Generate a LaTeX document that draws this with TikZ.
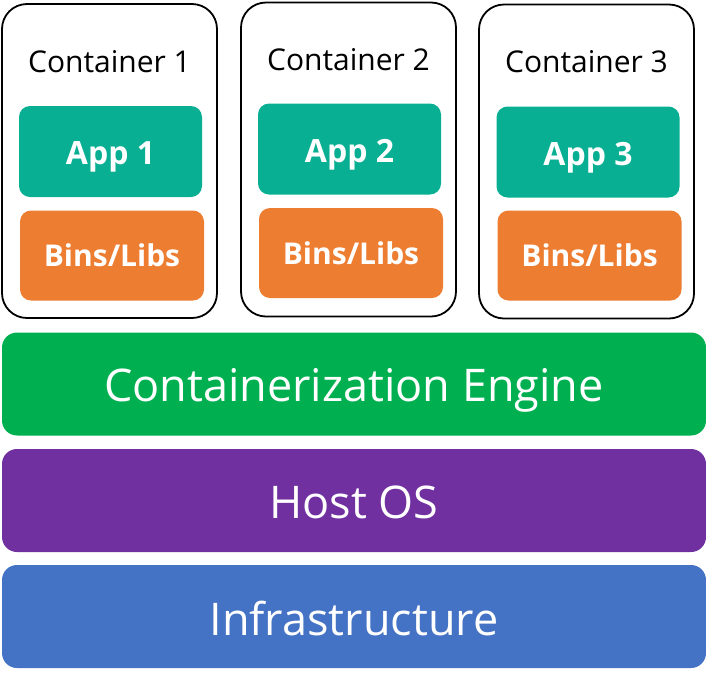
\documentclass[tikz,border=0pt]{standalone}
\usepackage{fontspec}
\setmainfont{Open Sans}
\definecolor{appc}{RGB}{8,175,146}
\definecolor{binc}{RGB}{237,125,49}
\definecolor{engc}{RGB}{0,176,80}
\definecolor{hostc}{RGB}{112,48,160}
\definecolor{infc}{RGB}{68,114,196}
\tikzset{
  cbox/.style={draw=black, line width=1.8pt, rounded corners=25pt, minimum width=215pt, minimum height=314pt, inner sep=0pt},
  ctitle/.style={font=\fontsize{30}{34}\selectfont, text=black, inner sep=0pt, text height=21.4pt, text depth=0pt},
  appbox/.style={fill=appc, rounded corners=11pt, minimum width=183pt, minimum height=91pt, inner sep=0pt, text=white, font=\fontsize{32}{36}\selectfont\bfseries, text height=26.8pt, text depth=0pt},
  binbox/.style={fill=binc, rounded corners=11pt, minimum width=184pt, minimum height=90pt, inner sep=0pt, text=white, font=\fontsize{30}{34}\selectfont\bfseries, text height=22.4pt, text depth=0pt},
  layer/.style={rounded corners=15pt, minimum width=704pt, minimum height=103pt, inner sep=0pt, text=white, font=\fontsize{45}{50}\selectfont, text depth=0pt}
}
\begin{document}
\begin{tikzpicture}[x=1pt,y=-1pt]
\useasboundingbox (0,0) rectangle (706,678);
\node[cbox] (c1) at (109.5,161) {};
\node[cbox] (c2) at (348.5,159.5) {};
\node[cbox] (c3) at (586.5,161.5) {};
\node[ctitle] (t1) at (109.5,62) {Container 1};
\node[ctitle] (t2) at (348.5,60) {Container 2};
\node[ctitle] (t3) at (586.5,62) {Container 3};
\node[appbox] (a1) at (110.5,151.5) {App 1};
\node[appbox] (a2) at (349.5,149) {App 2};
\node[appbox] (a3) at (588,152) {App 3};
\node[binbox] (b1) at (112,255.5) {Bins/Libs};
\node[binbox] (b2) at (351,253) {Bins/Libs};
\node[binbox] (b3) at (589.5,255.5) {Bins/Libs};
\node[layer, fill=engc, text height=35pt] (eng) at (354,384) {Containerization Engine};
\node[layer, fill=hostc, text height=35pt] (host) at (354,500.5) {Host OS};
\node[layer, fill=infc, text height=38pt] (inf) at (354,616.5) {Infrastructure};
\end{tikzpicture}
\end{document}
